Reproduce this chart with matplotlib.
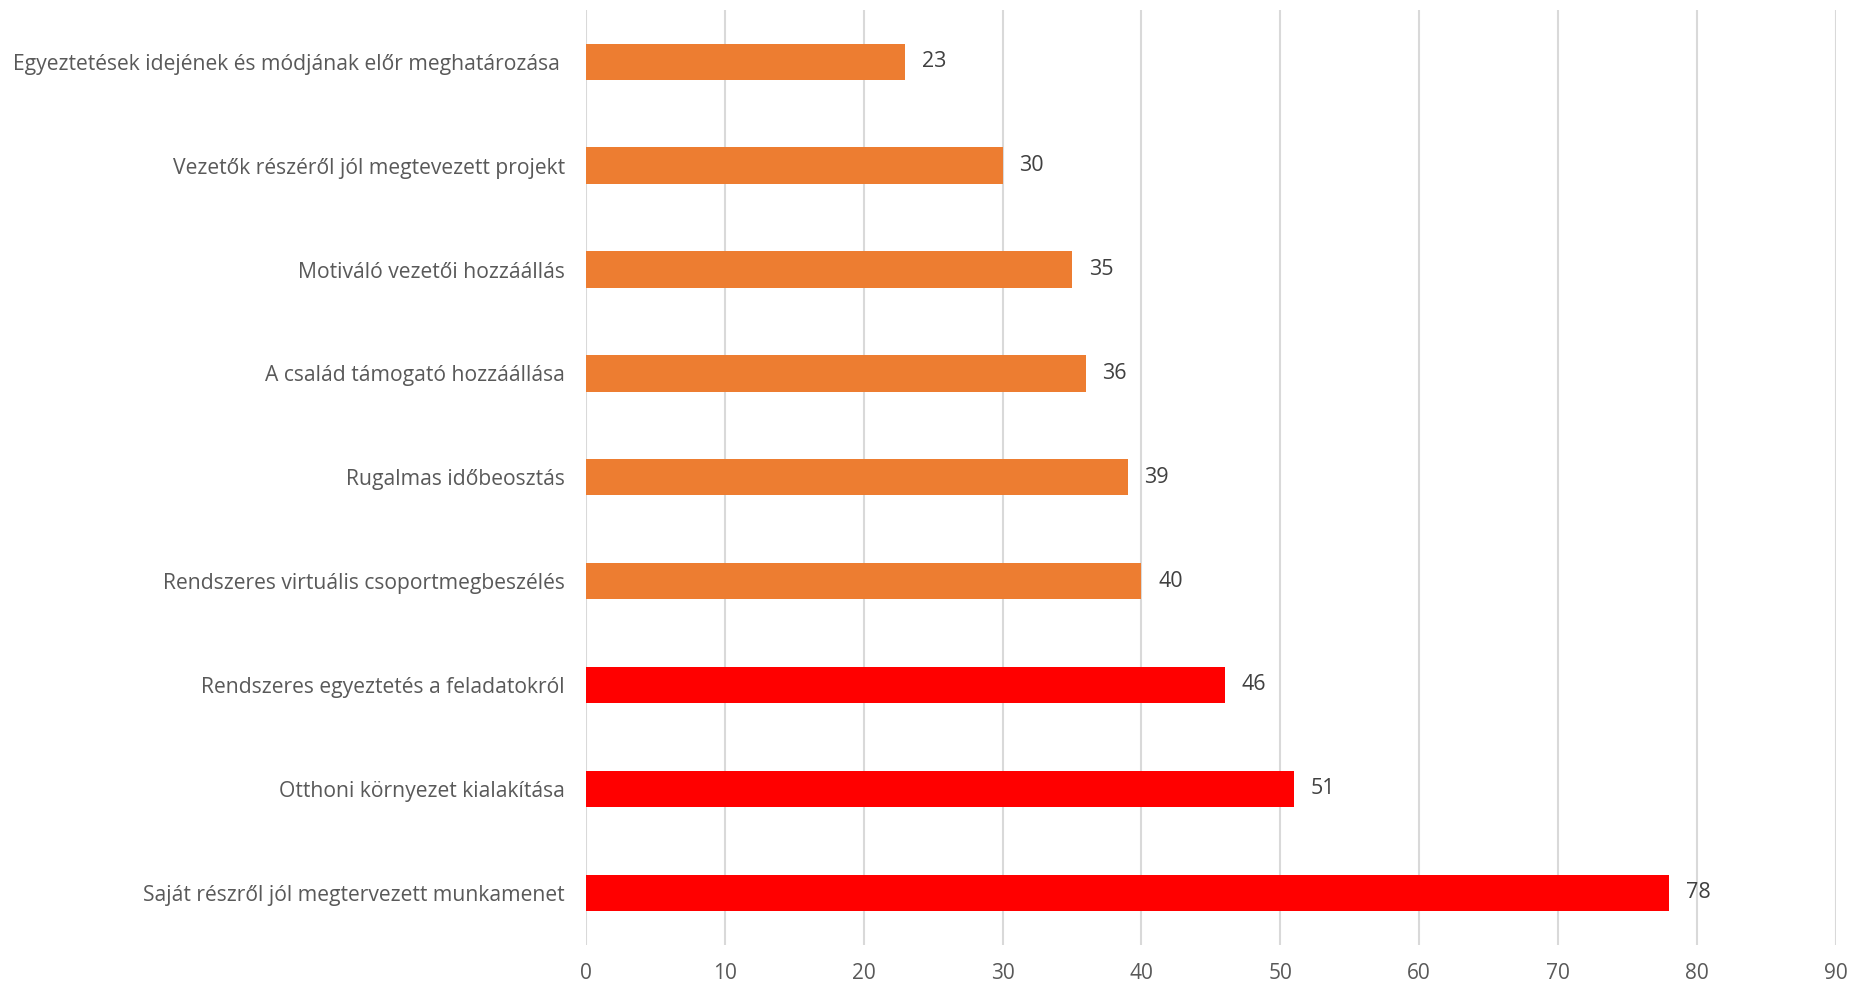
import matplotlib
matplotlib.use('Agg')
import matplotlib.pyplot as plt

categories = [
    'Egyeztetések idejének és módjának előr meghatározása ',
    'Vezetők részéről jól megtevezett projekt',
    'Motiváló vezetői hozzáállás',
    'A család támogató hozzáállása',
    'Rugalmas időbeosztás',
    'Rendszeres virtuális csoportmegbeszélés',
    'Rendszeres egyeztetés a feladatokról',
    'Otthoni környezet kialakítása',
    'Saját részről jól megtervezett munkamenet',
]
values = [23, 30, 35, 36, 39, 40, 46, 51, 78]
colors = ['#ED7D31'] * 6 + ['#FF0000'] * 3
xticks = [0, 10, 20, 30, 40, 50, 60, 70, 80, 90]

plt.rcParams['font.family'] = ['Open Sans', 'DejaVu Sans']

fig = plt.figure(figsize=(18.6, 9.84), dpi=100)
ax = fig.add_axes([0.315, 0.040, 0.672, 0.950])

pos = list(range(len(categories)))
ax.barh(pos, values, height=0.35, color=colors, zorder=3)
for p, v in zip(pos, values):
    ax.text(v + 1.2, p, str(v), va='center', ha='left', fontsize=15.5, color='#404040')

ax.set_xlim(0, 90)
ax.set_ylim(8.5, -0.5)
ax.set_xticks(xticks)
ax.set_yticks(pos)
ax.set_yticklabels(categories, fontsize=15.2, color='#595959')
ax.tick_params(axis='x', labelsize=15, labelcolor='#595959', length=0, pad=13)
ax.tick_params(axis='y', length=0, pad=15)
ax.grid(axis='x', color='#D9D9D9', linewidth=1.5, zorder=0)
for s in ax.spines.values():
    s.set_visible(False)

fig.savefig('out.png', dpi=100)
